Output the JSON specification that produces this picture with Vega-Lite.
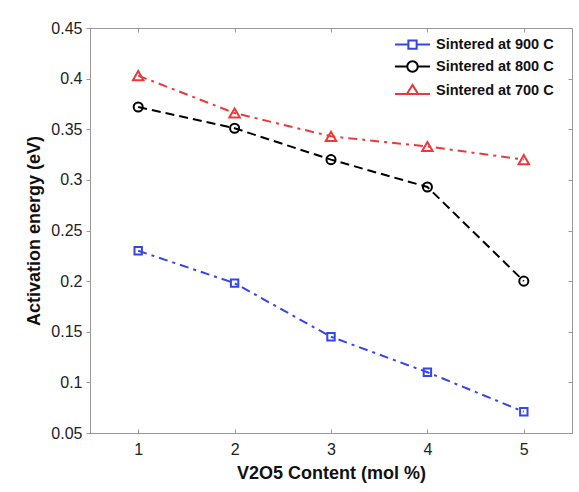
{
  "$schema": "https://vega.github.io/schema/vega-lite/v6.json",
  "width": 482,
  "height": 405,
  "autosize": {"type": "none"},
  "padding": {"left": 90, "top": 28, "right": 7, "bottom": 59},
  "background": "white",
  "config": {
    "view": {"stroke": "#999", "strokeWidth": 1},
    "axis": {
      "labelFont": "Liberation Sans", "labelFontSize": 16, "labelColor": "#222",
      "titleFont": "Liberation Sans", "titleFontSize": 18, "titleFontWeight": "bold", "titleColor": "#111",
      "domainColor": "#999", "tickColor": "#999", "grid": false, "tickSize": 4
    }
  },
  "data": {
    "values": [
      {"x": 1, "y": 0.230, "series": "Sintered at 900 C"},
      {"x": 2, "y": 0.198, "series": "Sintered at 900 C"},
      {"x": 3, "y": 0.145, "series": "Sintered at 900 C"},
      {"x": 4, "y": 0.110, "series": "Sintered at 900 C"},
      {"x": 5, "y": 0.071, "series": "Sintered at 900 C"},
      {"x": 1, "y": 0.372, "series": "Sintered at 800 C"},
      {"x": 2, "y": 0.351, "series": "Sintered at 800 C"},
      {"x": 3, "y": 0.320, "series": "Sintered at 800 C"},
      {"x": 4, "y": 0.293, "series": "Sintered at 800 C"},
      {"x": 5, "y": 0.200, "series": "Sintered at 800 C"},
      {"x": 1, "y": 0.403, "series": "Sintered at 700 C"},
      {"x": 2, "y": 0.366, "series": "Sintered at 700 C"},
      {"x": 3, "y": 0.343, "series": "Sintered at 700 C"},
      {"x": 4, "y": 0.333, "series": "Sintered at 700 C"},
      {"x": 5, "y": 0.320, "series": "Sintered at 700 C"}
    ]
  },
  "layer": [
    {
      "mark": {"type": "line", "strokeWidth": 2},
      "encoding": {
        "x": {"field": "x", "type": "quantitative", "scale": {"domain": [0.5, 5.5], "nice": false},
              "axis": {"values": [1, 2, 3, 4, 5], "title": "V2O5 Content (mol %)", "tickSize": -4, "labelPadding": 12, "titlePadding": 7}},
        "y": {"field": "y", "type": "quantitative", "scale": {"domain": [0.05, 0.45], "nice": false, "zero": false},
              "axis": {"values": [0.05, 0.1, 0.15, 0.2, 0.25, 0.3, 0.35, 0.4, 0.45], "format": "~g", "title": "Activation energy (eV)", "labelPadding": 4, "titlePadding": 7}},
        "color": {"field": "series", "type": "nominal",
                  "scale": {"domain": ["Sintered at 900 C", "Sintered at 800 C", "Sintered at 700 C"], "range": ["#3344f0", "#000000", "#ea3a3a"]},
                  "legend": null},
        "strokeDash": {"field": "series", "type": "nominal",
                  "scale": {"domain": ["Sintered at 900 C", "Sintered at 800 C", "Sintered at 700 C"], "range": [[9, 5, 3, 5], [9, 5], [9, 5, 3, 5]]},
                  "legend": null}
      }
    },
    {
      "mark": {"type": "point", "filled": false, "strokeWidth": 2, "opacity": 1},
      "encoding": {
        "x": {"field": "x", "type": "quantitative", "axis": null},
        "y": {"field": "y", "type": "quantitative", "axis": null},
        "color": {"field": "series", "type": "nominal",
                  "scale": {"domain": ["Sintered at 900 C", "Sintered at 800 C", "Sintered at 700 C"], "range": ["#3344f0", "#000000", "#ea3a3a"]},
                  "legend": null},
        "shape": {"field": "series", "type": "nominal",
                  "scale": {"domain": ["Sintered at 900 C", "Sintered at 800 C", "Sintered at 700 C"], "range": ["square", "circle", "triangle-up"]},
                  "legend": null},
        "size": {"field": "series", "type": "nominal",
                  "scale": {"domain": ["Sintered at 900 C", "Sintered at 800 C", "Sintered at 700 C"], "range": [55, 110, 100]},
                  "legend": null}
      }
    },
    {
      "mark": {"type": "point", "filled": false, "strokeWidth": 2, "opacity": 0},
      "encoding": {
        "x": {"field": "x", "type": "quantitative",
              "axis": {"orient": "top", "values": [1, 2, 3, 4, 5], "labels": false, "title": null, "domain": false, "tickSize": -4}},
        "y": {"field": "y", "type": "quantitative",
              "axis": {"orient": "right", "values": [0.05, 0.1, 0.15, 0.2, 0.25, 0.3, 0.35, 0.4, 0.45], "labels": false, "title": null, "domain": false, "tickSize": -4}},
        "color": {"field": "series", "type": "nominal",
                  "scale": {"domain": ["Sintered at 900 C", "Sintered at 800 C", "Sintered at 700 C"], "range": ["#3344f0", "#000000", "#ea3a3a"]},
                  "legend": {"orient": "none", "legendX": 314, "legendY": 8, "title": null, "symbolSize": 225, "symbolStrokeWidth": 2, "symbolOpacity": 1,
                             "labelFont": "Liberation Sans", "labelFontSize": 14.5, "labelFontWeight": "bold", "labelColor": "#111", "labelOffset": 15, "labelLimit": 0, "rowPadding": 4}},
        "shape": {"field": "series", "type": "nominal",
                  "scale": {"domain": ["Sintered at 900 C", "Sintered at 800 C", "Sintered at 700 C"],
                            "range": ["M-2.33,0H-0.55M0.55,0H2.33M-0.55,-0.55H0.55V0.55H-0.55Z",
                                      "M-2.33,0H-0.7M0.7,0H2.33M-0.7,0A0.7,0.7 0 1,0 0.7,0A0.7,0.7 0 1,0 -0.7,0Z",
                                      "M-2.33,0.45H-0.75M0.75,0.45H2.33M0,-0.75L0.75,0.45H-0.75Z"]},
                  "legend": {"orient": "none", "legendX": 314, "legendY": 8, "title": null, "symbolSize": 225, "symbolStrokeWidth": 2, "symbolOpacity": 1,
                             "labelFont": "Liberation Sans", "labelFontSize": 14.5, "labelFontWeight": "bold", "labelColor": "#111", "labelOffset": 15, "labelLimit": 0, "rowPadding": 4}}
      }
    }
  ],
  "resolve": {
    "scale": {"color": "independent", "shape": "independent", "size": "independent"},
    "axis": {"x": "independent", "y": "independent"}
  }
}
